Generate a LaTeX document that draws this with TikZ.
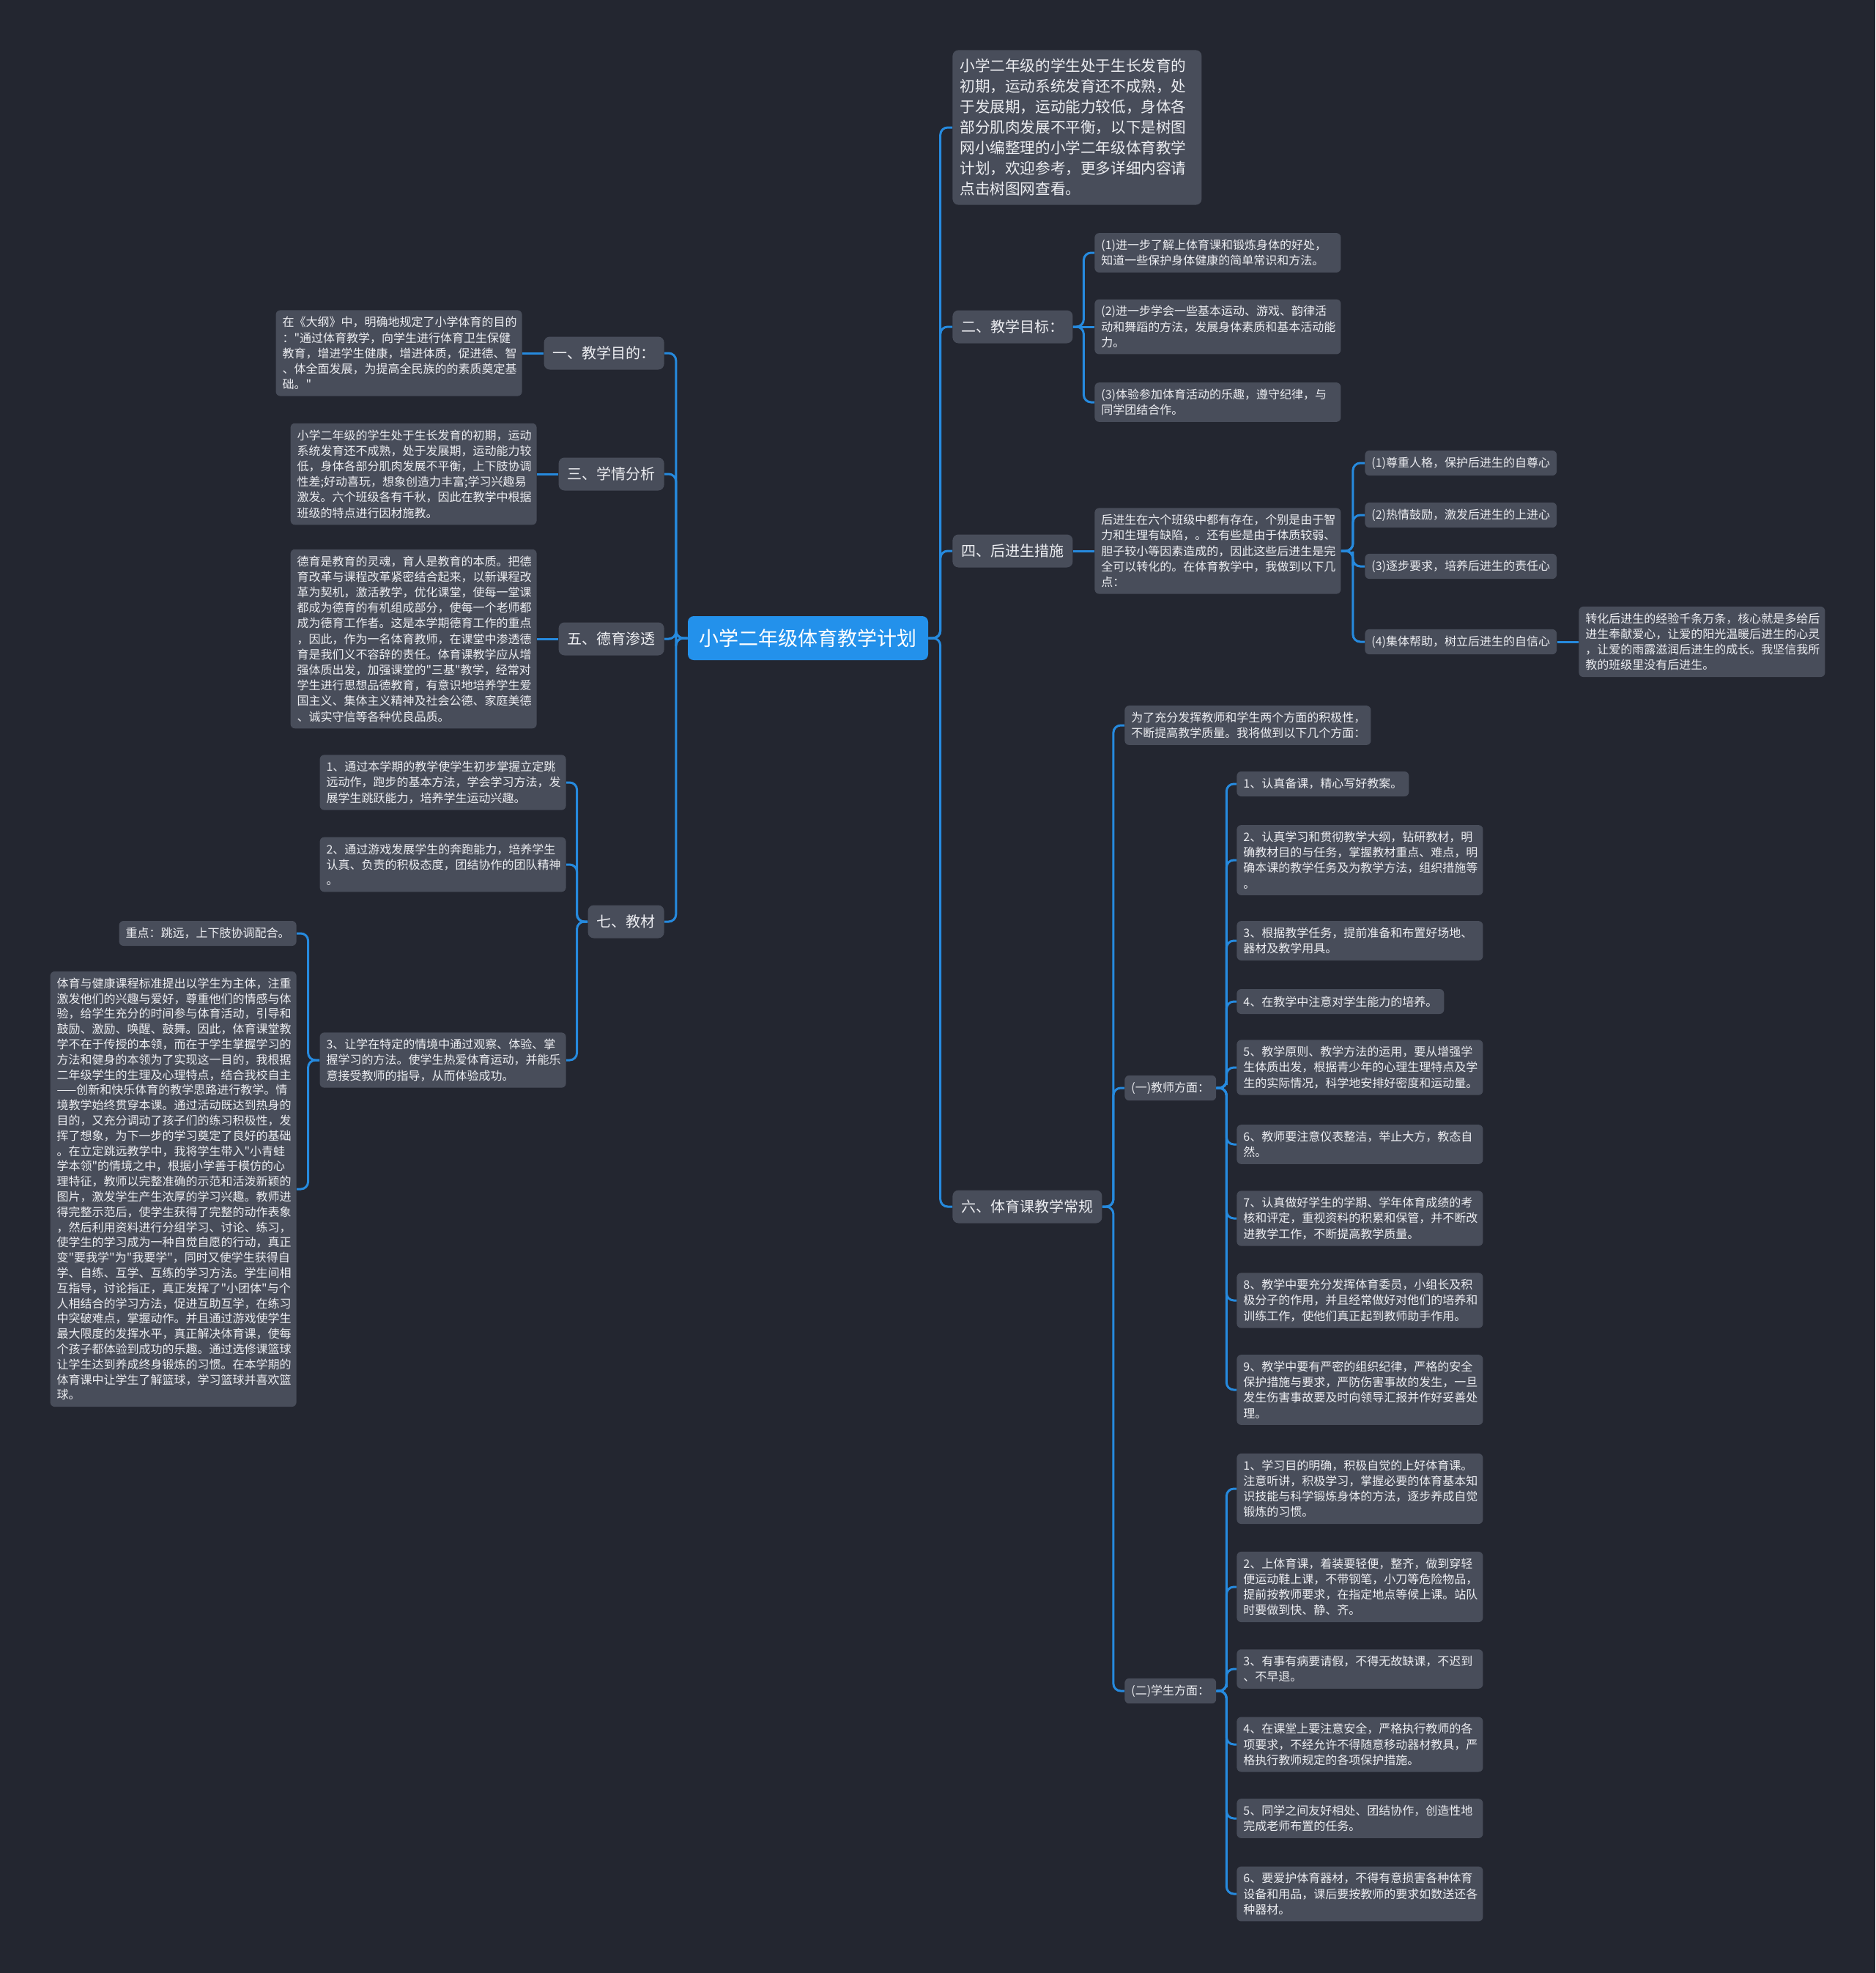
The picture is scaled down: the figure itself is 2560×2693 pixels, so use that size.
\documentclass[tikz,border=0pt]{standalone}
\usepackage{fontspec}
\setmainfont{Noto Sans CJK SC}
\newfontfamily\cnfont{Noto Sans CJK SC}
\usepackage{tikz}
\usetikzlibrary{calc}
\definecolor{bgdark}{RGB}{35,38,48}
\definecolor{boxgrey}{RGB}{72,77,90}
\definecolor{rootblue}{RGB}{35,145,235}
\definecolor{linkblue}{RGB}{38,138,222}
\definecolor{inkwhite}{RGB}{236,237,241}

\begin{document}
\begin{tikzpicture}[
  x=0.5pt, y=-0.5pt,
  root/.style={rectangle, rounded corners=4pt, fill=rootblue, text=white, font=\cnfont\fontsize{13.5}{16}\selectfont, inner xsep=7.75pt, minimum height=30pt},
  topic/.style={rectangle, rounded corners=4pt, fill=boxgrey, text=inkwhite, font=\cnfont\fontsize{10}{14}\selectfont, inner xsep=6pt, minimum height=22.5pt},
  leaf/.style={rectangle, rounded corners=3pt, fill=boxgrey, text=inkwhite, font=\cnfont\fontsize{8}{10.6}\selectfont, align=left, inner xsep=4.5pt, inner ysep=4.4pt, minimum height=17pt},
  wrap/.style={leaf, text width=159pt},
  link/.style={draw=linkblue, line width=1.5pt, rounded corners=5pt},
  elbow/.style={link, to path={-| ($(\tikztostart)!.5!(\tikztotarget)$) |- (\tikztotarget)}}
]
\fill[bgdark] (0,0) rectangle (2560,2693);
\useasboundingbox (0,0) rectangle (2560,2693);

\node[root] (plan) at (1103,871) {小学二年级体育教学计划};

\node[topic, anchor=west, align=left, text width=160pt, inner xsep=5pt, inner ysep=6pt, font=\cnfont\fontsize{10.3}{14}\selectfont] (intro) at (1300,174) {小学二年级的学生处于生长发育的\\初期，运动系统发育还不成熟，处\\于发展期，运动能力较低，身体各\\部分肌肉发展不平衡，以下是树图\\网小编整理的小学二年级体育教学\\计划，欢迎参考，更多详细内容请\\点击树图网查看。};
\node[topic, anchor=west] (goal) at (1300,446) {二、教学目标：};
\node[topic, anchor=west] (lag)  at (1300,752) {四、后进生措施};
\node[topic, anchor=west] (rule) at (1300,1647) {六、体育课教学常规};

\node[topic, anchor=east] (aim)   at (907,482) {一、教学目的：};
\node[topic, anchor=east] (anal)  at (907,647) {三、学情分析};
\node[topic, anchor=east] (moral) at (907,872) {五、德育渗透};
\node[topic, anchor=east] (mat)   at (907,1258) {七、教材};

\node[wrap, anchor=west] (g1) at (1494,345) {(1)进一步了解上体育课和锻炼身体的好处，\\知道一些保护身体健康的简单常识和方法。};
\node[wrap, anchor=west] (g2) at (1494,446) {(2)进一步学会一些基本运动、游戏、韵律活\\动和舞蹈的方法，发展身体素质和基本活动能\\力。};
\node[wrap, anchor=west] (g3) at (1494,549) {(3)体验参加体育活动的乐趣，遵守纪律，与\\同学团结合作。};

\node[wrap, anchor=west] (lagtext) at (1494,752) {后进生在六个班级中都有存在，个别是由于智\\力和生理有缺陷，。还有些是由于体质较弱、\\胆子较小等因素造成的，因此这些后进生是完\\全可以转化的。在体育教学中，我做到以下几\\点：};
\node[leaf, anchor=west] (l1) at (1863,632) {(1)尊重人格，保护后进生的自尊心};
\node[leaf, anchor=west] (l2) at (1863,703) {(2)热情鼓励，激发后进生的上进心};
\node[leaf, anchor=west] (l3) at (1863,773) {(3)逐步要求，培养后进生的责任心};
\node[leaf, anchor=west] (l4) at (1863,876) {(4)集体帮助，树立后进生的自信心};
\node[wrap, anchor=west] (l4note) at (2155,876) {转化后进生的经验千条万条，核心就是多给后\\进生奉献爱心，让爱的阳光温暖后进生的心灵\\，让爱的雨露滋润后进生的成长。我坚信我所\\教的班级里没有后进生。};

\node[wrap, anchor=west] (rnote) at (1535,990) {为了充分发挥教师和学生两个方面的积极性，\\不断提高教学质量。我将做到以下几个方面：};
\node[leaf, anchor=west] (teach) at (1535,1485) {(一)教师方面：};
\node[leaf, anchor=west] (stud)  at (1535,2308) {(二)学生方面：};

\node[leaf, anchor=west] (t1) at (1688,1070) {1、认真备课，精心写好教案。};
\node[wrap, anchor=west] (t2) at (1688,1174) {2、认真学习和贯彻教学大纲，钻研教材，明\\确教材目的与任务，掌握教材重点、难点，明\\确本课的教学任务及为教学方法，组织措施等\\。};
\node[wrap, anchor=west] (t3) at (1688,1284) {3、根据教学任务，提前准备和布置好场地、\\器材及教学用具。};
\node[leaf, anchor=west] (t4) at (1688,1367) {4、在教学中注意对学生能力的培养。};
\node[wrap, anchor=west] (t5) at (1688,1457) {5、教学原则、教学方法的运用，要从增强学\\生体质出发，根据青少年的心理生理特点及学\\生的实际情况，科学地安排好密度和运动量。};
\node[wrap, anchor=west] (t6) at (1688,1562) {6、教师要注意仪表整洁，举止大方，教态自\\然。};
\node[wrap, anchor=west] (t7) at (1688,1663) {7、认真做好学生的学期、学年体育成绩的考\\核和评定，重视资料的积累和保管，并不断改\\进教学工作，不断提高教学质量。};
\node[wrap, anchor=west] (t8) at (1688,1775) {8、教学中要充分发挥体育委员，小组长及积\\极分子的作用，并且经常做好对他们的培养和\\训练工作，使他们真正起到教师助手作用。};
\node[wrap, anchor=west] (t9) at (1688,1897) {9、教学中要有严密的组织纪律，严格的安全\\保护措施与要求，严防伤害事故的发生，一旦\\发生伤害事故要及时向领导汇报并作好妥善处\\理。};

\node[wrap, anchor=west] (s1) at (1688,2032) {1、学习目的明确，积极自觉的上好体育课。\\注意听讲，积极学习，掌握必要的体育基本知\\识技能与科学锻炼身体的方法，逐步养成自觉\\锻炼的习惯。};
\node[wrap, anchor=west] (s2) at (1688,2166) {2、上体育课，着装要轻便，整齐，做到穿轻\\便运动鞋上课，不带钢笔，小刀等危险物品，\\提前按教师要求，在指定地点等候上课。站队\\时要做到快、静、齐。};
\node[wrap, anchor=west] (s3) at (1688,2278) {3、有事有病要请假，不得无故缺课，不迟到\\、不早退。};
\node[wrap, anchor=west] (s4) at (1688,2381) {4、在课堂上要注意安全，严格执行教师的各\\项要求，不经允许不得随意移动器材教具，严\\格执行教师规定的各项保护措施。};
\node[wrap, anchor=west] (s5) at (1688,2482) {5、同学之间友好相处、团结协作，创造性地\\完成老师布置的任务。};
\node[wrap, anchor=west] (s6) at (1688,2585) {6、要爱护体育器材，不得有意损害各种体育\\设备和用品，课后要按教师的要求如数送还各\\种器材。};

\node[wrap, anchor=east] (aimtext) at (713,482) {在《大纲》中，明确地规定了小学体育的目的\\："通过体育教学，向学生进行体育卫生保健\\教育，增进学生健康，增进体质，促进德、智\\、体全面发展，为提高全民族的的素质奠定基\\础。"};
\node[wrap, anchor=east] (analtext) at (733,647) {小学二年级的学生处于生长发育的初期，运动\\系统发育还不成熟，处于发展期，运动能力较\\低，身体各部分肌肉发展不平衡，上下肢协调\\性差;好动喜玩，想象创造力丰富;学习兴趣易\\激发。六个班级各有千秋，因此在教学中根据\\班级的特点进行因材施教。};
\node[wrap, anchor=east] (moraltext) at (733,872) {德育是教育的灵魂，育人是教育的本质。把德\\育改革与课程改革紧密结合起来，以新课程改\\革为契机，激活教学，优化课堂，使每一堂课\\都成为德育的有机组成部分，使每一个老师都\\成为德育工作者。这是本学期德育工作的重点\\，因此，作为一名体育教师，在课堂中渗透德\\育是我们义不容辞的责任。体育课教学应从增\\强体质出发，加强课堂的"三基"教学，经常对\\学生进行思想品德教育，有意识地培养学生爱\\国主义、集体主义精神及社会公德、家庭美德\\、诚实守信等各种优良品质。};

\node[wrap, anchor=east] (m1) at (773,1068) {1、通过本学期的教学使学生初步掌握立定跳\\远动作，跑步的基本方法，学会学习方法，发\\展学生跳跃能力，培养学生运动兴趣。};
\node[wrap, anchor=east] (m2) at (773,1180) {2、通过游戏发展学生的奔跑能力，培养学生\\认真、负责的积极态度，团结协作的团队精神\\。};
\node[wrap, anchor=east] (m3) at (773,1447) {3、让学在特定的情境中通过观察、体验、掌\\握学习的方法。使学生热爱体育运动，并能乐\\意接受教师的指导，从而体验成功。};
\node[leaf, anchor=east] (key) at (405,1274) {重点：跳远，上下肢协调配合。};
\node[wrap, anchor=east, font=\cnfont\fontsize{8}{10.4}\selectfont] (method) at (405,1623) {体育与健康课程标准提出以学生为主体，注重\\激发他们的兴趣与爱好，尊重他们的情感与体\\验，给学生充分的时间参与体育活动，引导和\\鼓励、激励、唤醒、鼓舞。因此，体育课堂教\\学不在于传授的本领，而在于学生掌握学习的\\方法和健身的本领为了实现这一目的，我根据\\二年级学生的生理及心理特点，结合我校自主\\——创新和快乐体育的教学思路进行教学。情\\境教学始终贯穿本课。通过活动既达到热身的\\目的，又充分调动了孩子们的练习积极性，发\\挥了想象，为下一步的学习奠定了良好的基础\\。在立定跳远教学中，我将学生带入"小青蛙\\学本领"的情境之中，根据小学善于模仿的心\\理特征，教师以完整准确的示范和活泼新颖的\\图片，激发学生产生浓厚的学习兴趣。教师进\\得完整示范后，使学生获得了完整的动作表象\\，然后利用资料进行分组学习、讨论、练习，\\使学生的学习成为一种自觉自愿的行动，真正\\变"要我学"为"我要学"，同时又使学生获得自\\学、自练、互学、互练的学习方法。学生间相\\互指导，讨论指正，真正发挥了"小团体"与个\\人相结合的学习方法，促进互助互学，在练习\\中突破难点，掌握动作。并且通过游戏使学生\\最大限度的发挥水平，真正解决体育课，使每\\个孩子都体验到成功的乐趣。通过选修课篮球\\让学生达到养成终身锻炼的习惯。在本学期的\\体育课中让学生了解篮球，学习篮球并喜欢篮\\球。};

\draw[elbow] (plan.east) to (intro.west);
\draw[elbow] (plan.east) to (goal.west);
\draw[elbow] (plan.east) to (lag.west);
\draw[elbow] (plan.east) to (rule.west);
\draw[elbow] (plan.west) to (aim.east);
\draw[elbow] (plan.west) to (anal.east);
\draw[elbow] (plan.west) to (moral.east);
\draw[elbow] (plan.west) to (mat.east);

\draw[elbow] (goal.east) to (g1.west);
\draw[link]  (goal.east) -- (g2.west);
\draw[elbow] (goal.east) to (g3.west);

\draw[link]  (lag.east) -- (lagtext.west);
\draw[elbow] (lagtext.east) to (l1.west);
\draw[elbow] (lagtext.east) to (l2.west);
\draw[elbow] (lagtext.east) to (l3.west);
\draw[elbow] (lagtext.east) to (l4.west);
\draw[link]  (l4.east) -- (l4note.west);

\draw[elbow] (rule.east) to (rnote.west);
\draw[elbow] (rule.east) to (teach.west);
\draw[elbow] (rule.east) to (stud.west);

\draw[elbow] (teach.east) to (t1.west);
\draw[elbow] (teach.east) to (t2.west);
\draw[elbow] (teach.east) to (t3.west);
\draw[elbow] (teach.east) to (t4.west);
\draw[elbow] (teach.east) to (t5.west);
\draw[elbow] (teach.east) to (t6.west);
\draw[elbow] (teach.east) to (t7.west);
\draw[elbow] (teach.east) to (t8.west);
\draw[elbow] (teach.east) to (t9.west);

\draw[elbow] (stud.east) to (s1.west);
\draw[elbow] (stud.east) to (s2.west);
\draw[elbow] (stud.east) to (s3.west);
\draw[elbow] (stud.east) to (s4.west);
\draw[elbow] (stud.east) to (s5.west);
\draw[elbow] (stud.east) to (s6.west);

\draw[link] (aim.west) -- (aimtext.east);
\draw[link] (anal.west) -- (analtext.east);
\draw[link] (moral.west) -- (moraltext.east);

\draw[elbow] (mat.west) to (m1.east);
\draw[elbow] (mat.west) to (m2.east);
\draw[elbow] (mat.west) to (m3.east);
\draw[elbow] (m3.west) to (key.east);
\draw[elbow] (m3.west) to (method.east);
\end{tikzpicture}
\end{document}
